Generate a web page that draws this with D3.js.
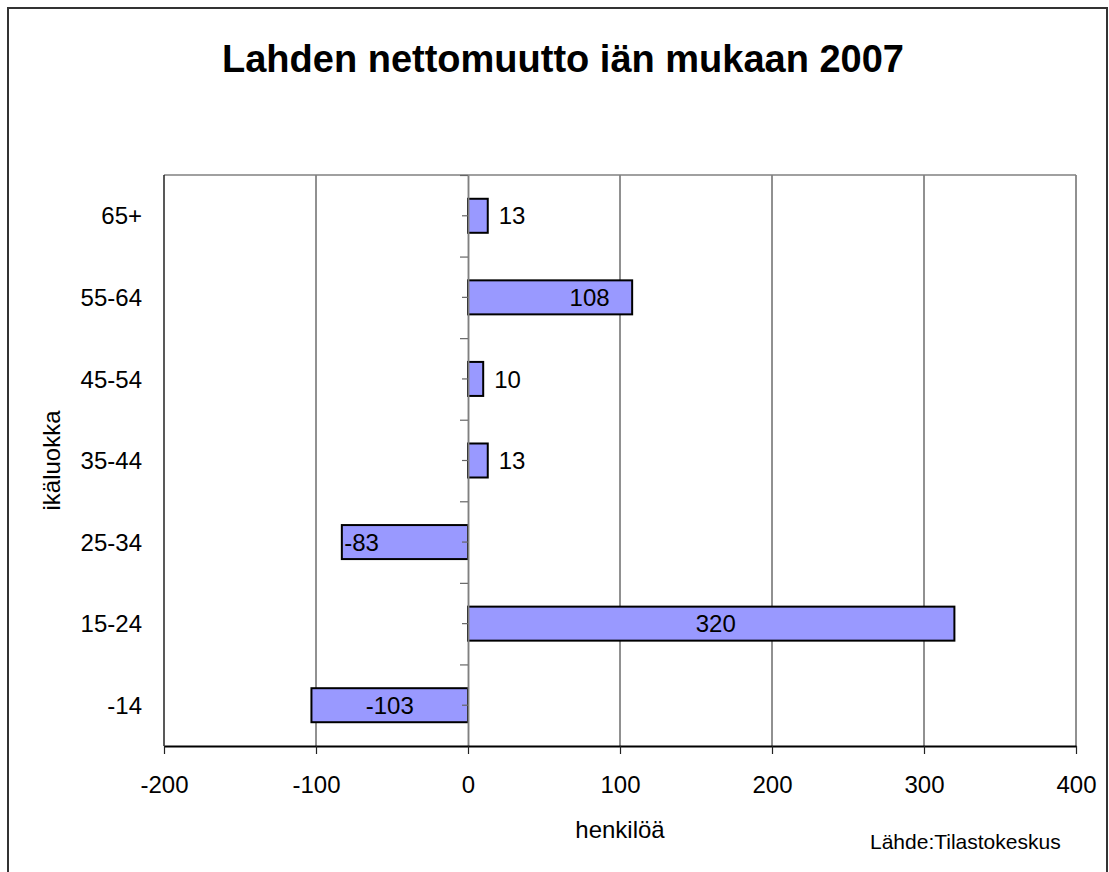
<!DOCTYPE html>
<html>
<head>
<meta charset="utf-8">
<script src="https://cdn.jsdelivr.net/npm/d3@7"></script>
<style>
  html, body { margin: 0; padding: 0; background: #fff; }
  svg { display: block; font-family: "Liberation Sans", Arial, sans-serif; }
</style>
</head>
<body>
<svg id="chart" width="1109" height="872"></svg>
<script>
// data
const ageGroups = ["-14", "15-24", "25-34", "35-44", "45-54", "55-64", "65+"];
const netMigration = [-103, 320, -83, 13, 10, 108, 13];
// where excel put the value labels (in data units), null = outside end
const labelAt = [-51.5, 163, -70, null, null, 80, null];
const xTicks = [-200, -100, 0, 100, 200, 300, 400];

const svg = d3.select("#chart");
const W = +svg.attr("width");
const H = +svg.attr("height");

// outer frame
svg.append("rect")
  .attr("x", 8).attr("y", 8)
  .attr("width", W - 10).attr("height", H + 20)
  .attr("fill", "#fff")
  .attr("stroke", "#333")
  .attr("stroke-width", 2);

const plot = { left: 164, right: 1076, top: 175, bottom: 746 };

const x = d3.scaleLinear()
  .domain([-200, 400])
  .range([plot.left, plot.right]);

// gap width 140% -> bar = 1/2.4 of slot
const y = d3.scaleBand()
  .domain(ageGroups.slice().reverse())
  .range([plot.top, plot.bottom])
  .paddingInner(0.583)
  .paddingOuter(0.2915);

const g = svg.append("g");

// title
svg.append("text")
  .attr("x", 563)
  .attr("y", 72)
  .attr("text-anchor", "middle")
  .style("font-size", "38px")
  .style("font-weight", "bold")
  .text("Lahden nettomuutto iän mukaan 2007");

// vertical gridlines
g.append("g")
  .selectAll("line")
  .data(xTicks.filter(d => d !== 0 && d !== -200))
  .enter().append("line")
  .attr("x1", d => x(d)).attr("x2", d => x(d))
  .attr("y1", plot.top).attr("y2", plot.bottom)
  .attr("stroke", "#222")
  .attr("stroke-width", 1);

// top border of plot area
g.append("line")
  .attr("x1", plot.left).attr("x2", plot.right)
  .attr("y1", plot.top).attr("y2", plot.top)
  .attr("stroke", "#808080")
  .attr("stroke-width", 1.5);

// left border (-200)
g.append("line")
  .attr("x1", x(-200)).attr("x2", x(-200))
  .attr("y1", plot.top).attr("y2", plot.bottom)
  .attr("stroke", "#222")
  .attr("stroke-width", 1.5);

// bars
g.append("g")
  .selectAll("rect")
  .data(ageGroups)
  .enter().append("rect")
  .attr("x", (d, i) => x(Math.min(0, netMigration[i])))
  .attr("y", d => y(d))
  .attr("width", (d, i) => Math.abs(x(netMigration[i]) - x(0)))
  .attr("height", y.bandwidth())
  .attr("fill", "#9999ff")
  .attr("stroke", "#000")
  .attr("stroke-width", 2);

// category axis at zero
const yIdx = d3.scaleLinear().domain([0, ageGroups.length]).range([plot.bottom, plot.top]);
const zeroAxis = g.append("g").attr("transform", `translate(${x(0)},0)`);
zeroAxis.call(d3.axisLeft(yIdx)
  .tickValues(d3.range(0, ageGroups.length + 1))
  .tickFormat("")
  .tickSize(8)
  .tickSizeOuter(0));
zeroAxis.append("g").call(d3.axisLeft(y).tickFormat("").tickSize(6).tickSizeOuter(0));
zeroAxis.selectAll("path.domain")
  .attr("stroke", "#808080")
  .attr("stroke-width", 1.5);
zeroAxis.selectAll(".tick line")
  .attr("stroke", "#666")
  .attr("stroke-width", 1.2);

// category labels on the left
g.append("g")
  .selectAll("text")
  .data(ageGroups)
  .enter().append("text")
  .attr("x", 142)
  .attr("y", d => y(d) + y.bandwidth() / 2)
  .attr("dy", "0.36em")
  .attr("text-anchor", "end")
  .style("font-size", "24px")
  .text(d => d);

// value axis at bottom
const xAxis = g.append("g")
  .attr("transform", `translate(0,${plot.bottom})`)
  .call(d3.axisBottom(x)
    .tickValues(xTicks)
    .tickFormat(d => String(d))
    .tickSize(8)
    .tickSizeOuter(0)
    .tickPadding(22));
xAxis.select("path.domain").attr("stroke", "#000").attr("stroke-width", 1.8);
xAxis.selectAll(".tick line").attr("stroke", "#222").attr("stroke-width", 1.2);
xAxis.selectAll(".tick text")
  .attr("fill", "#000")
  .style("font-size", "24px")
  .style("font-family", "'Liberation Sans', Arial, sans-serif");

// value labels
g.append("g")
  .selectAll("text")
  .data(ageGroups)
  .enter().append("text")
  .attr("x", (d, i) => labelAt[i] == null ? x(netMigration[i]) + 11 : x(labelAt[i]))
  .attr("y", d => y(d) + y.bandwidth() / 2)
  .attr("dy", "0.36em")
  .attr("text-anchor", (d, i) => labelAt[i] == null ? "start" : "middle")
  .style("font-size", "24px")
  .text((d, i) => netMigration[i]);

// axis titles
svg.append("text")
  .attr("transform", `translate(51,${(plot.top + plot.bottom) / 2}) rotate(-90)`)
  .attr("dy", "0.36em")
  .attr("text-anchor", "middle")
  .style("font-size", "24px")
  .text("ikäluokka");

svg.append("text")
  .attr("x", (plot.left + plot.right) / 2)
  .attr("y", 838)
  .attr("text-anchor", "middle")
  .style("font-size", "24px")
  .text("henkilöä");

svg.append("text")
  .attr("x", 870)
  .attr("y", 849)
  .style("font-size", "21px")
  .text("Lähde:Tilastokeskus");
</script>
</body>
</html>
